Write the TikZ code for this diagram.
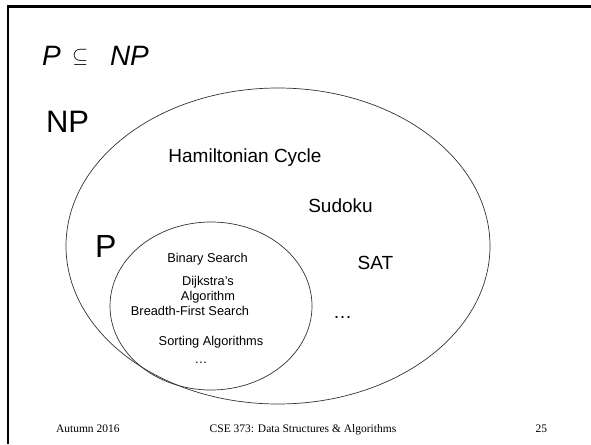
\documentclass[tikz,border=0pt]{standalone}
\usepackage{fontspec}
\setmainfont{Liberation Serif}
\newfontfamily\arial{Liberation Sans}
\begin{document}
\begin{tikzpicture}[x=1pt,y=-1pt,
  lbl/.style={inner sep=0pt,outer sep=0pt,font=\arial},
  big/.style={lbl,font=\arial\fontsize{19}{21}\selectfont,anchor=base},
  small/.style={lbl,font=\arial\fontsize{12.8}{14}\selectfont,anchor=base},
  foot/.style={inner sep=0pt,outer sep=0pt,font=\fontsize{11.5}{13}\selectfont},
  setline/.style={line width=0.7pt,draw=black!80}]
\useasboundingbox (0,0) rectangle (591,444);
% slide frame
\draw[line width=2.5pt] (8,444) -- (8,6.5) -- (591,6.5);
% title
\node[lbl,anchor=base west,font=\arial\itshape\fontsize{28}{30}\selectfont] (tP) at (42,65) {P};
\node[lbl,anchor=base west,font=\fontsize{21}{23}\selectfont] (tsub) at (72,63) {$\subseteq$};
\node[lbl,anchor=base west,font=\arial\itshape\fontsize{28}{30}\selectfont] (tNP) at (110,65) {NP};
% sets
\draw[setline] (278,246) ellipse [x radius=212, y radius=158];
\draw[setline] (211,306) ellipse [x radius=101, y radius=84];
\node[lbl,anchor=base west,font=\arial\fontsize{31}{33}\selectfont] (NPl) at (46,132) {NP};
\node[lbl,anchor=base west,font=\arial\fontsize{32}{34}\selectfont] (Pl) at (95,257) {P};
% NP members
\node[big] (ham) at (245,162) {Hamiltonian Cycle};
\node[big] (sud) at (340.5,212) {Sudoku};
\node[big] (sat) at (375.5,269) {SAT};
\node[big] (npdots) at (342.5,318) {\ldots};
% P members
\node[small] (bin) at (207.5,262) {Binary Search};
\node[small] (dij) at (208,285) {Dijkstra’s};
\node[small] (alg) at (208,300) {Algorithm};
\node[small] (bfs) at (190,315) {Breadth-First Search};
\node[small] (sort) at (211,345) {Sorting Algorithms};
\node[small] (pdots) at (201,363) {\ldots};
% footer
\node[foot,anchor=base west] (f1) at (56,432) {Autumn 2016};
\node[foot,anchor=base] (f2) at (303,432) {CSE 373: Data Structures \& Algorithms};
\node[foot,anchor=base east] (f3) at (547,432) {25};
\end{tikzpicture}
\end{document}
